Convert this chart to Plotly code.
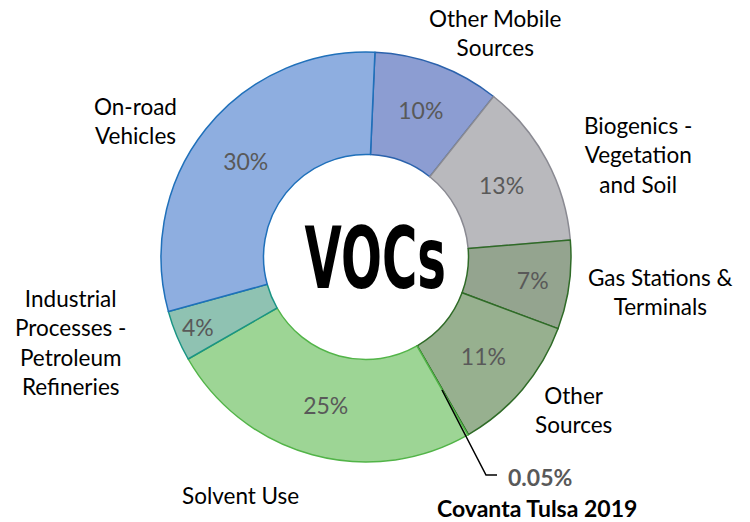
import plotly.graph_objects as go

W, H = 750, 522

labels = ["Other Mobile Sources", "Biogenics - Vegetation and Soil", "Gas Stations & Terminals",
          "Other Sources", "Covanta Tulsa 2019", "Solvent Use",
          "Industrial Processes - Petroleum Refineries", "On-road Vehicles"]
values = [10, 13, 7, 11, 0.05, 25, 4, 30]
pct_text = ["10%", "13%", "7%", "11%", "", "25%", "4%", "30%"]
fill_colors = ["#8c9dd2", "#b9b9bd", "#94a48f", "#97b08f", "#5a8a50", "#9dd595", "#8fc2b2", "#8eaee0"]
line_colors = ["#2b62ac", "#8a8a92", "#2f6b27", "#2f6b27", "#2f6b27", "#52b448", "#1a9484", "#1f70ba"]

cx, cy, R = 366, 257, 205

def px(x):
    return x / W

def py(y):
    return 1 - y / H

fig = go.Figure(go.Pie(
    labels=labels,
    values=values,
    text=pct_text,
    textinfo="text",
    textposition="inside",
    insidetextorientation="horizontal",
    textfont=dict(family="Lato, Open Sans, sans-serif", size=23, color="#595959"),
    hole=0.5,
    sort=False,
    direction="clockwise",
    rotation=2.5,
    marker=dict(colors=fill_colors, line=dict(color=line_colors, width=1.5)),
    domain=dict(x=[px(cx - R), px(cx + R)], y=[py(cy + R), py(cy - R)]),
    showlegend=False,
    hoverinfo="label+value",
))

label_font = dict(family="Lato, Open Sans, sans-serif", size=22.5, color="#000000")
annots = [
    ("Other Mobile<br>Sources", 495, 33),
    ("Biogenics -<br>Vegetation<br>and Soil", 638, 155),
    ("Gas Stations &<br>Terminals", 660, 292),
    ("Other<br>Sources", 573, 410),
    ("Solvent Use", 240, 495),
    ("Industrial<br>Processes -<br>Petroleum<br>Refineries", 70, 342),
    ("On-road<br>Vehicles", 135, 121),
]
annotations = []
for t, x, y in annots:
    annotations.append(dict(text=t, x=px(x), y=py(y), xref="paper", yref="paper",
                            showarrow=False, font=label_font, align="center",
                            xanchor="center", yanchor="middle"))
annotations.append(dict(text="<b>0.05%</b>", x=px(540), y=py(477), xref="paper", yref="paper",
                        showarrow=False, xanchor="center", yanchor="middle",
                        font=dict(family="Lato, Open Sans, sans-serif", size=23, color="#595959")))
annotations.append(dict(text="<b>Covanta Tulsa 2019</b>", x=px(537), y=py(508), xref="paper", yref="paper",
                        showarrow=False, xanchor="center", yanchor="middle",
                        font=dict(family="Lato, Open Sans, sans-serif", size=23, color="#000000")))
annotations.append(dict(text="<b>VOCs</b>", x=px(375), y=py(cy + 1), xref="paper", yref="paper",
                        showarrow=False, xanchor="center", yanchor="middle",
                        font=dict(family="DejaVu Sans, sans-serif", size=86, color="#000000")))

shapes = [
    dict(type="path", xref="paper", yref="paper",
         path=f"M {px(442)},{py(390)} L {px(486)},{py(475)} L {px(497)},{py(475)}",
         line=dict(color="#000000", width=1.5)),
]

fig.update_layout(
    width=W, height=H,
    margin=dict(l=0, r=0, t=0, b=0),
    paper_bgcolor="white",
    plot_bgcolor="white",
    annotations=annotations,
    shapes=shapes,
)

post = """
document.body.style.margin = '0';
(function(){
  function squeeze(){
    document.querySelectorAll('text.annotation-text').forEach(function(t){
      if (t.textContent === 'VOCs' && !t.dataset.sq) {
        var b = t.getBBox();
        var mx = b.x + b.width / 2, my = b.y + b.height / 2;
        t.setAttribute('transform', 'translate(' + mx + ',' + my + ') scale(0.56,1) translate(' + (-mx) + ',' + (-my) + ')');
        t.dataset.sq = '1';
      }
    });
  }
  squeeze();
  var gd = document.getElementById('{plot_id}');
  if (gd && gd.on) { gd.on('plotly_afterplot', function(){ document.querySelectorAll('text.annotation-text').forEach(function(t){ delete t.dataset.sq; }); squeeze(); }); }
})();
"""

fig.write_html("out.html", post_script=post, config={"displayModeBar": False})
